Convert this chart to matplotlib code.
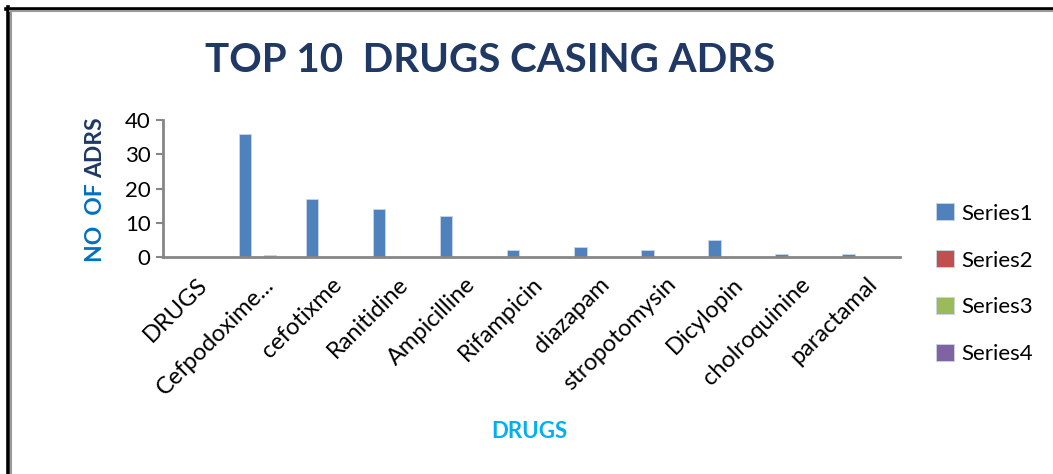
import matplotlib.pyplot as plt
from matplotlib.lines import Line2D
import numpy as np

plt.rcParams['font.family'] = ['Lato', 'DejaVu Sans']

drugs = ["DRUGS", "Cefpodoxime...", "cefotixme", "Ranitidine", "Ampicilline",
         "Rifampicin", "diazapam", "stropotomysin", "Dicylopin", "cholroquinine",
         "paractamal"]
series1 = [0, 36, 17, 14, 12, 2, 3, 2, 5, 1, 1]
series2 = [0, 0, 0, 0, 0, 0, 0, 0, 0, 0, 0]
series3 = [0, 0.5, 0, 0, 0, 0, 0, 0, 0, 0, 0]
series4 = [0, 0, 0, 0, 0, 0, 0, 0, 0, 0, 0]
series_names = ["Series1", "Series2", "Series3", "Series4"]
colors = ["#4F81BD", "#C0504D", "#9BBB59", "#8064A2"]

fig = plt.figure(figsize=(10.53, 4.74), dpi=100)
ax = fig.add_axes([0.1548, 0.4578, 0.70, 0.289])

x = np.arange(len(drugs))
w = 0.18
offsets = [-1.5 * w, -0.5 * w, 0.5 * w, 1.5 * w]
handles = []
for vals, name, c, off in zip([series1, series2, series3, series4], series_names, colors, offsets):
    b = ax.bar(x + off, vals, width=w, color=c, edgecolor="#C9D6EA", linewidth=0.6, label=name)
    handles.append(b)

ax.set_xlim(-0.5, len(drugs) - 0.5)
ax.set_ylim(0, 40)
ax.set_yticks([0, 10, 20, 30, 40])
ax.tick_params(axis="y", labelsize=16, length=5, width=1.5, color="#868686", pad=4)
ax.tick_params(axis="x", length=0, pad=12)
ax.set_xticks(x)
ax.set_xticklabels(drugs, rotation=45, ha="right", rotation_mode="anchor", fontsize=17)
for s in ["top", "right"]:
    ax.spines[s].set_visible(False)
for s in ["left", "bottom"]:
    ax.spines[s].set_color("#868686")
    ax.spines[s].set_linewidth(2)

# y label in two colours
fig.text(0.091, 0.6245, "NO  OF ", rotation=90, ha="center", va="top",
         fontsize=16.5, fontweight="bold", color="#0070C0")
fig.text(0.091, 0.6245, "ADRS", rotation=90, ha="center", va="bottom",
         fontsize=16.5, fontweight="bold", color="#1F3864")

fig.text(0.465, 0.872, "TOP 10  DRUGS CASING ADRS", ha="center", va="center",
         fontsize=29, fontweight="bold", color="#1F3864")
fig.text(0.503, 0.09, "DRUGS", ha="center", va="center",
         fontsize=16, fontweight="bold", color="#00B0F0")

fig.legend(handles=handles, labels=series_names, loc="center left",
           bbox_to_anchor=(0.87, 0.401), frameon=False, fontsize=16,
           handlelength=0.8, handleheight=0.8, handletextpad=0.35,
           labelspacing=1.2)

# outer frame of the picture
fig.add_artist(Line2D([6 / 1053, 1], [1 - 8.5 / 474] * 2, color="black", lw=2.6, transform=fig.transFigure))
fig.add_artist(Line2D([8 / 1053] * 2, [0, 1 - 7 / 474], color="black", lw=2.6, transform=fig.transFigure))
fig.add_artist(Line2D([10 / 1053, 1], [1 - 11 / 474] * 2, color="#999999", lw=1.5, transform=fig.transFigure))
fig.add_artist(Line2D([10.5 / 1053] * 2, [0, 1 - 11 / 474], color="#999999", lw=1.5, transform=fig.transFigure))

fig.savefig("out.png", dpi=100)
